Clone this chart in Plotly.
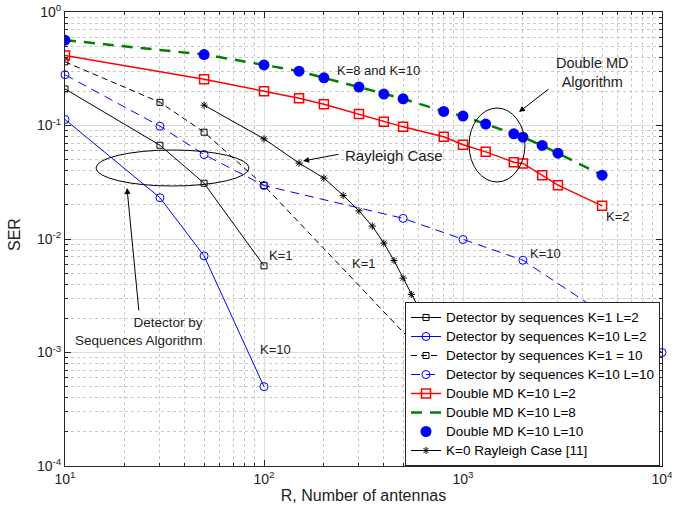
import plotly.graph_objects as go

# ---- data ----
x_det = [10, 30, 50, 100]
ser_k1_l2 = [0.21, 0.067, 0.031, 0.0058]
ser_k10_l2 = [0.113, 0.0231, 0.0071, 0.0005]

x_k1_l10 = [10, 30, 50, 100, 1000]
ser_k1_l10 = [0.364, 0.160, 0.0873, 0.0296, 0.00042]

x_k10_l10 = [10, 30, 50, 100, 500, 1000, 2000, 10000]
ser_k10_l10 = [0.280, 0.0986, 0.0555, 0.0296, 0.0152, 0.0099, 0.0065, 0.001]

x_md = [10, 50, 100, 150, 200, 300, 400, 500, 800, 1000, 1300, 1800, 2000, 2500, 3000, 5000]
ser_md_l2 = [0.414, 0.256, 0.2005, 0.174, 0.154, 0.126, 0.108, 0.0973, 0.0795, 0.0676,
             0.0586, 0.0475, 0.0463, 0.0365, 0.0298, 0.0196]
ser_md_l8 = [0.565, 0.422, 0.342, 0.301, 0.263, 0.218, 0.189, 0.172, 0.133, 0.121,
             0.103, 0.0845, 0.0789, 0.0667, 0.057, 0.0365]
ser_md_l10 = [0.565, 0.422, 0.342, 0.301, 0.263, 0.218, 0.189, 0.172, 0.133, 0.121,
              0.103, 0.0845, 0.0789, 0.0667, 0.057, 0.0365]

x_ray = [50, 100, 150, 200, 250, 300, 350, 400, 450, 500, 550, 600, 650, 700, 800]
ser_ray = [0.151, 0.0763, 0.0466, 0.0344, 0.0242, 0.0177, 0.013, 0.0092, 0.00646,
           0.00452, 0.00325, 0.00246, 0.0018, 0.0013, 0.0007]

x_ticks = [10, 100, 1000, 10000]
x_ticktext = ["10<sup>1</sup>", "10<sup>2</sup>", "10<sup>3</sup>", "10<sup>4</sup>"]
y_ticks = [1e-4, 1e-3, 1e-2, 1e-1, 1]
y_ticktext = ["10<sup>-4</sup>", "10<sup>-3</sup>", "10<sup>-2</sup>", "10<sup>-1</sup>", "10<sup>0</sup>"]
x_minor = [m * d for d in [10, 100, 1000] for m in range(2, 10)]
y_minor = [m * d for d in [1e-4, 1e-3, 1e-2, 1e-1] for m in range(2, 10)]

names = [
    "Detector by sequences K=1 L=2",
    "Detector by sequences K=10 L=2",
    "Detector by sequences K=1 = 10",
    "Detector by sequences K=10 L=10",
    "Double MD K=10 L=2",
    "Double MD K=10 L=8",
    "Double MD K=10 L=10",
    "K=0 Rayleigh Case [11]",
]

def lg(n):
    return '<span style="font-size:13.5px">' + n + '</span>'

fig = go.Figure()

fig.add_trace(go.Scatter(x=x_det, y=ser_k1_l2, mode="lines+markers", name=lg(names[0]),
                         line=dict(color="black", width=1),
                         marker=dict(symbol="square-open", size=6, color="black")))
fig.add_trace(go.Scatter(x=x_det, y=ser_k10_l2, mode="lines+markers", name=lg(names[1]),
                         line=dict(color="blue", width=1),
                         marker=dict(symbol="circle-open", size=8, color="blue")))
fig.add_trace(go.Scatter(x=x_k1_l10, y=ser_k1_l10, mode="lines+markers", name=lg(names[2]),
                         line=dict(color="black", width=1, dash="6px,4px"),
                         marker=dict(symbol="square-open", size=6, color="black")))
fig.add_trace(go.Scatter(x=x_k10_l10, y=ser_k10_l10, mode="lines+markers", name=lg(names[3]),
                         line=dict(color="blue", width=1, dash="9px,6px"),
                         marker=dict(symbol="circle-open", size=8, color="blue"),
                         cliponaxis=False))
fig.add_trace(go.Scatter(x=x_md, y=ser_md_l2, mode="lines+markers", name=lg(names[4]),
                         line=dict(color="red", width=1.5),
                         marker=dict(symbol="square-open", size=9, color="red",
                                     line=dict(width=1.5))))
fig.add_trace(go.Scatter(x=x_md, y=ser_md_l8, mode="lines", name=lg(names[5]),
                         line=dict(color="green", width=2.5, dash="11px,8px")))
fig.add_trace(go.Scatter(x=x_md, y=ser_md_l10, mode="markers", name=lg(names[6]),
                         marker=dict(symbol="circle", size=11, color="blue")))
fig.add_trace(go.Scatter(x=x_ray, y=ser_ray, mode="lines+markers", name=lg(names[7]),
                         line=dict(color="black", width=1),
                         marker=dict(symbol="asterisk-open", size=6, color="black",
                                     line=dict(width=1, color="black"))))

FAM = "Liberation Sans, Arial, sans-serif"
def F(s):
    return dict(family=FAM, size=s, color="#222")
tickfont = F(14)
titlefont = F(16)

# page-pixel helpers (plot area spans x 65..662, y 12..466)
def dx(px):
    return (px - 65) / 597.0

def dy(py):
    return (466 - py) / 454.0

texts = [
    ("K=8 and K=10", 335, 70, 13),
    ("Rayleigh Case", 343, 155, 15),
    ("K=1", 267, 256, 13),
    ("K=1", 350, 263, 13),
    ("K=10", 258, 349, 13),
    ("K=10", 528, 253, 13),
    ("K=2", 604, 217, 13),
]
for t, px, py, s in texts:
    fig.add_annotation(text=t, xref="x domain", yref="y domain", x=dx(px), y=dy(py),
                       xanchor="left", yanchor="middle", showarrow=False, font=F(s))

fig.add_annotation(text="Double MD<br>Algorithm", xref="x domain", yref="y domain",
                   x=dx(592), y=dy(72.5), xanchor="center", yanchor="middle",
                   showarrow=False, font=F(14.5), align="center")
fig.add_annotation(text="Detector by<br>Sequences Algorithm", xref="x domain", yref="y domain",
                   x=dx(205), y=dy(331), xanchor="right", yanchor="middle",
                   showarrow=False, font=F(13.5), align="right")
fig.add_annotation(text="SER", xref="paper", yref="paper", x=dx(14), y=dy(235),
                   xanchor="center", yanchor="middle", textangle=-90,
                   showarrow=False, font=titlefont)

arrows = [
    ((519, 112), (550, 88)),
    ((303, 161), (340, 154)),
    ((127, 188), (139, 312)),
]
for (hx, hy), (tx, ty) in arrows:
    fig.add_annotation(text="", xref="x domain", yref="y domain", x=dx(hx), y=dy(hy),
                       ax=tx - hx, ay=ty - hy, showarrow=True, arrowhead=2,
                       arrowsize=1.2, arrowwidth=1, arrowcolor="black")

ellipses = [(96, 150, 249, 186), (469, 108, 525, 182)]
for x0, y0, x1, y1 in ellipses:
    fig.add_shape(type="circle", xref="x domain", yref="y domain",
                  x0=dx(x0), x1=dx(x1), y0=dy(y1), y1=dy(y0),
                  line=dict(color="black", width=1))

def axis_common(minor_vals):
    return dict(
        type="log", showline=True, linecolor="#262626", linewidth=1, mirror="ticks",
        ticks="inside", ticklen=6, tickcolor="#262626", automargin=False,
        showgrid=True, gridcolor="#dedede", gridwidth=1, zeroline=False,
        tickfont=tickfont,
        minor=dict(tickmode="array", tickvals=minor_vals, ticks="inside", ticklen=3,
                   tickcolor="#262626", showgrid=True,
                   gridcolor="#c8c8c8", griddash="dot", gridwidth=1),
    )

fig.update_layout(
    width=674, height=516,
    margin=dict(l=65, r=12, t=12, b=50),
    paper_bgcolor="white", plot_bgcolor="white",
    font=F(15),
    showlegend=True,
    legend=dict(x=dx(660), y=0.0, xanchor="right", yanchor="bottom",
                bgcolor="white", bordercolor="#262626", borderwidth=1,
                font=dict(family=FAM, size=11, color="black"),
                tracegroupgap=0, itemwidth=30),
    xaxis=dict(axis_common(x_minor), range=[1, 4], tickvals=x_ticks, ticktext=x_ticktext,
               title=dict(text="R, Number of antennas", font=titlefont, standoff=4)),
    yaxis=dict(axis_common(y_minor), range=[-4, 0], tickvals=y_ticks, ticktext=y_ticktext),
)

fig.write_html("out.html", config={"displayModeBar": False},
               post_script="document.body.style.margin='0px';document.body.style.overflow='hidden';")
